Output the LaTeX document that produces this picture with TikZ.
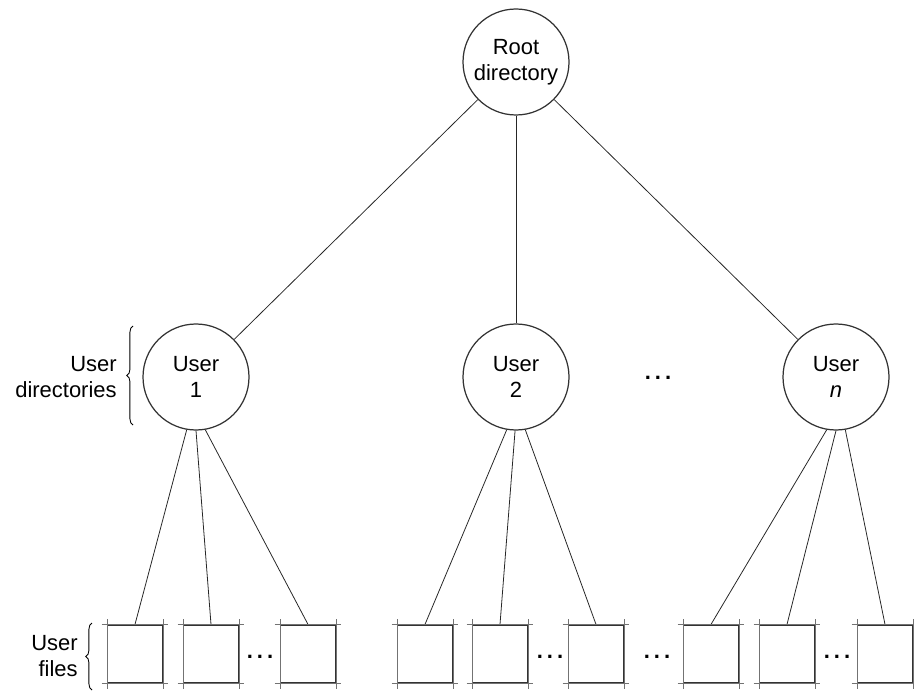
\documentclass[tikz,border=0pt]{standalone}
\usepackage{fontspec}
\setmainfont{Liberation Sans}
\usepackage{tikz}
\usetikzlibrary{decorations.pathreplacing}
\newcommand{\gapdots}{\textbf{.\hspace{0.08cm}.\hspace{0.08cm}.}}
\tikzset{
  dircircle/.style={draw=black!80, circle, minimum size=2.12cm, inner sep=0pt, align=center, line width=0.7pt, font=\fontsize{12.5}{14.5}\selectfont},
  filebox/.style={draw=black!80, minimum width=1.1cm, minimum height=1.16cm, inner sep=0pt, line width=0.7pt},
  treeedge/.style={draw=black!85, line width=0.45pt},
  edgetick/.style={draw=black!55, line width=0.4pt, shorten <=-3pt, shorten >=-3pt},
  sidelabel/.style={align=right, anchor=east, inner sep=0pt, font=\fontsize{12.5}{14.5}\selectfont},
  dotslabel/.style={inner sep=0pt, font=\fontsize{12.5}{14.5}\selectfont},
  groupbrace/.style={decorate, decoration={brace, amplitude=3.5pt}, line width=0.5pt}
}
\begin{document}
\begin{tikzpicture}
\useasboundingbox (0,0) rectangle (18.28,13.82);
\node[dircircle] (root) at (10.32,12.58) {Root\\directory};
\node[dircircle] (user1) at (3.92,6.28) {User\\1};
\node[dircircle] (user2) at (10.32,6.28) {User\\2};
\node[dircircle] (usern) at (16.72,6.28) {User\\\textit{n}};
\node[dotslabel] (dirdots) at (13.16,6.26) {\gapdots};
% user files
\node[filebox] (f1) at (2.70,0.74) {};
\node[filebox] (f2) at (4.22,0.74) {};
\node[filebox] (f3) at (6.16,0.74) {};
\node[filebox] (f4) at (8.50,0.74) {};
\node[filebox] (f5) at (10.00,0.74) {};
\node[filebox] (f6) at (11.92,0.74) {};
\node[filebox] (f7) at (14.22,0.74) {};
\node[filebox] (f8) at (15.74,0.74) {};
\node[filebox] (f9) at (17.70,0.74) {};
\node[dotslabel] (dots1) at (5.20,0.68) {\gapdots};
\node[dotslabel] (dots2) at (11.00,0.68) {\gapdots};
\node[dotslabel] (dots3) at (13.14,0.68) {\gapdots};
\node[dotslabel] (dots4) at (16.74,0.68) {\gapdots};
% side labels
\node[sidelabel] (dirlabel) at (2.34,6.28) {User\\directories};
\node[sidelabel] (filelabel) at (1.56,0.70) {User\\files};
\coordinate (dirbot) at (2.66,5.32);
\coordinate (dirtop) at (2.66,7.30);
\coordinate (filebot) at (1.84,0.02);
\coordinate (filetop) at (1.84,1.36);
\draw[groupbrace] (dirbot) -- (dirtop);
\draw[groupbrace] (filebot) -- (filetop);
% tree
\foreach \u in {user1,user2,usern} {
  \draw[treeedge] (root) -- (\u);
}
\draw[treeedge] (user1.-100) -- (f1.north);
\draw[treeedge] (user1.-90) -- (f2.north);
\draw[treeedge] (user1.-80) -- (f3.north);
\draw[treeedge] (user2.-100) -- (f4.north);
\draw[treeedge] (user2.-91) -- (f5.north);
\draw[treeedge] (user2.-80) -- (f6.north);
\draw[treeedge] (usern.-100) -- (f7.north);
\draw[treeedge] (usern.-90) -- (f8.north);
\draw[treeedge] (usern.-80) -- (f9.north);
% sketchy corners
\foreach \f in {f1,f2,f3,f4,f5,f6,f7,f8,f9} {
  \draw[edgetick] (\f.north west) -- (\f.north east);
  \draw[edgetick] (\f.south west) -- (\f.south east);
  \draw[edgetick] (\f.north west) -- (\f.south west);
  \draw[edgetick] (\f.north east) -- (\f.south east);
}
\end{tikzpicture}
\end{document}
